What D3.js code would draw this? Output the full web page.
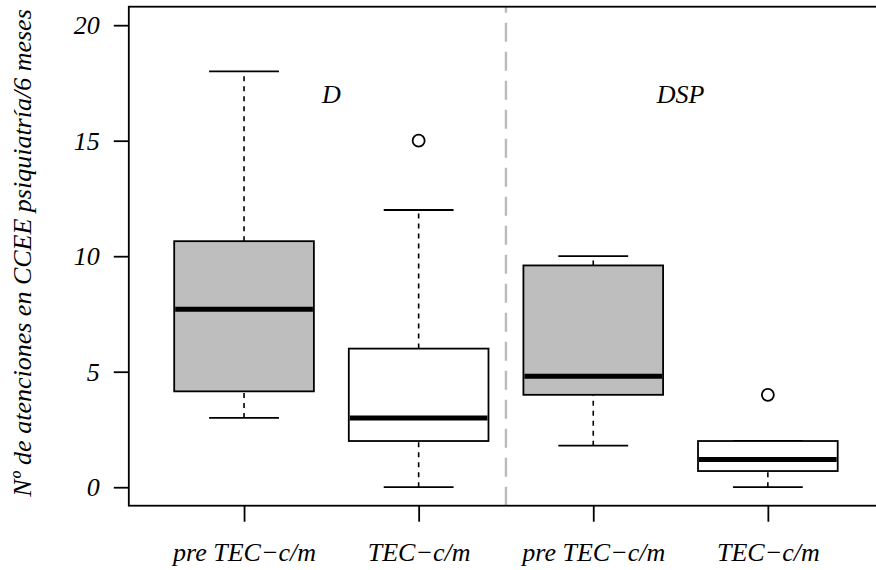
<!DOCTYPE html>
<html>
<head>
<meta charset="utf-8">
<script src="https://cdn.jsdelivr.net/npm/d3@7"></script>
<style>
  html, body { margin: 0; padding: 0; background: #fff; }
  svg { display: block; }
  text { font-family: "Liberation Serif", "DejaVu Serif", serif; font-style: italic; fill: #000; }
</style>
</head>
<body>
<svg id="chart" width="876" height="570"></svg>
<script>
// Categories (x positions 1..4) and box statistics per category
const categories = ["pre TEC\u2212c/m", "TEC\u2212c/m", "pre TEC\u2212c/m", "TEC\u2212c/m"];
const whiskerLow  = [3,     0, 1.8, 0];
const q1          = [4.15,  2, 4.0, 0.7];
const median      = [7.7,   3, 4.8, 1.2];
const q3          = [10.65, 6, 9.6, 2];
const whiskerHigh = [18,   12, 10,  2];
const outliers    = [[], [15], [], [4]];
const panelLabels = ["D", "DSP"];
const panelLabelX = [1.5, 3.5];
const panelLabelY = 17;
const yTicks = [0, 5, 10, 15, 20];
const xTicks = [1, 2, 3, 4];
const yTitle = "N\u00BA de atenciones en CCEE psiquiatr\u00EDa/6 meses";

const svg = d3.select("#chart");
const fontSize = 26;

const x = d3.scaleLinear().domain([0.34, 4.66]).range([128.8, 883.1]);
const y = d3.scaleLinear().domain([-0.8, 20.8]).range([505.7, 6.7]);

const boxHalf = 0.4, stapleHalf = 0.2;
const fillFor = i => (i % 2 === 0 ? "#bebebe" : "#ffffff");

const boxes = categories.map((c, i) => ({
  i, pos: i + 1, lo: whiskerLow[i], q1: q1[i], med: median[i], q3: q3[i], hi: whiskerHigh[i], out: outliers[i]
}));

const g = svg.append("g");

// whiskers (dashed)
g.selectAll(".whisk-lo").data(boxes).join("line")
  .attr("x1", d => x(d.pos)).attr("x2", d => x(d.pos))
  .attr("y1", d => y(d.lo)).attr("y2", d => y(d.q1))
  .attr("stroke", "#000").attr("stroke-width", 1.6).attr("stroke-dasharray", "5,5");
g.selectAll(".whisk-hi").data(boxes).join("line")
  .attr("x1", d => x(d.pos)).attr("x2", d => x(d.pos))
  .attr("y1", d => y(d.q3)).attr("y2", d => y(d.hi))
  .attr("stroke", "#000").attr("stroke-width", 1.6).attr("stroke-dasharray", "5,5");

// staples
["lo", "hi"].forEach(k => {
  g.selectAll(".staple-" + k).data(boxes).join("line")
    .attr("x1", d => x(d.pos - stapleHalf)).attr("x2", d => x(d.pos + stapleHalf))
    .attr("y1", d => y(d[k])).attr("y2", d => y(d[k]))
    .attr("stroke", "#000").attr("stroke-width", 1.8);
});

// boxes
g.selectAll(".box").data(boxes).join("rect")
  .attr("x", d => x(d.pos - boxHalf))
  .attr("width", d => x(d.pos + boxHalf) - x(d.pos - boxHalf))
  .attr("y", d => y(d.q3))
  .attr("height", d => y(d.q1) - y(d.q3))
  .attr("fill", d => fillFor(d.i))
  .attr("stroke", "#000").attr("stroke-width", 1.8);

// medians
g.selectAll(".med").data(boxes).join("line")
  .attr("x1", d => x(d.pos - boxHalf) + 1).attr("x2", d => x(d.pos + boxHalf) - 1)
  .attr("y1", d => y(d.med)).attr("y2", d => y(d.med))
  .attr("stroke", "#000").attr("stroke-width", 5);

// outliers
const outPts = boxes.flatMap(d => d.out.map(v => ({ pos: d.pos, v })));
g.selectAll(".out").data(outPts).join("circle")
  .attr("cx", d => x(d.pos)).attr("cy", d => y(d.v)).attr("r", 6)
  .attr("fill", "none").attr("stroke", "#000").attr("stroke-width", 1.8);

// separator between groups
svg.append("line")
  .attr("x1", x(2.5)).attr("x2", x(2.5))
  .attr("y1", y.range()[0]).attr("y2", y.range()[1])
  .attr("stroke", "#bababa").attr("stroke-width", 2.4).attr("stroke-dasharray", "19,10");

// group labels
svg.selectAll(".panel").data(panelLabels).join("text")
  .attr("x", (d, i) => x(panelLabelX[i]))
  .attr("y", y(panelLabelY))
  .attr("text-anchor", "middle").attr("dominant-baseline", "central")
  .attr("font-size", fontSize)
  .text(d => d);

// frame
svg.append("rect")
  .attr("x", x.range()[0]).attr("y", y.range()[1])
  .attr("width", x.range()[1] - x.range()[0])
  .attr("height", y.range()[0] - y.range()[1])
  .attr("fill", "none").attr("stroke", "#000").attr("stroke-width", 1.8);

// y axis
const yAxis = svg.append("g").attr("transform", `translate(${x.range()[0]},0)`)
  .call(d3.axisLeft(y).tickValues(yTicks).tickSize(15).tickPadding(14));
yAxis.select(".domain").remove();
yAxis.selectAll("line").attr("stroke", "#000").attr("stroke-width", 1.8);
yAxis.selectAll("text").attr("font-size", fontSize).attr("font-family", null).attr("fill", "#000");

// x axis
const xAxis = svg.append("g").attr("transform", `translate(0,${y.range()[0]})`)
  .call(d3.axisBottom(x).tickValues(xTicks).tickFormat((d, i) => categories[i]).tickSize(16).tickPadding(21));
xAxis.select(".domain").remove();
xAxis.selectAll("line").attr("stroke", "#000").attr("stroke-width", 1.8);
xAxis.selectAll("text").attr("font-size", fontSize).attr("font-family", null).attr("fill", "#000");

// y title
svg.append("text")
  .attr("transform", `translate(31,253) rotate(-90)`)
  .attr("text-anchor", "middle")
  .attr("font-size", fontSize)
  .text(yTitle);
</script>
</body>
</html>
